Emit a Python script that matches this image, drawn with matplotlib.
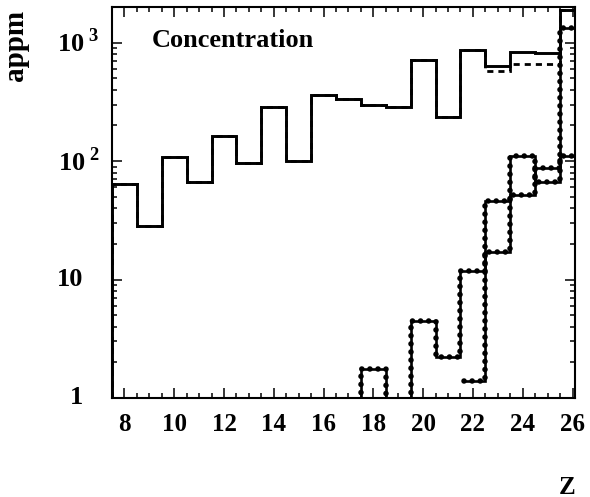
import numpy as np
import matplotlib.pyplot as plt
from matplotlib.transforms import blended_transform_factory

plt.rcParams['font.family'] = ['Liberation Serif', 'DejaVu Serif']
plt.rcParams['font.weight'] = 'bold'
plt.rcParams['mathtext.fontset'] = 'custom'
plt.rcParams['mathtext.rm'] = 'Liberation Serif:bold'
plt.rcParams['mathtext.bf'] = 'Liberation Serif:bold'

# bin edges (Z) and concentrations in appm
edges_main = np.arange(7.5, 27.0, 1.0)
conc_solid = [64, 28.4, 109, 66, 164, 96, 287, 101, 364, 337, 296, 287,
              720, 236, 875, 631, 830, 820, 1900]
conc_dashed = [64, 28.4, 109, 66, 164, 96, 287, 101, 364, 337, 296, 287,
               720, 236, 875, 573, 661, 661, 1900]

edges_a = np.arange(17.5, 27.0, 1.0)
conc_a = [1.76, 0, 4.5, 2.2, 11.7, 46, 111, 66, 1340]

edges_b = [21.65, 22.5, 23.5, 24.5, 25.5, 26.5]
conc_b = [1.40, 17.2, 52, 87.5, 110]

xticks = [8, 10, 12, 14, 16, 18, 20, 22, 24, 26]
ytick_vals = [1, 10, 100, 1000]
ytick_labs = ['1', '10', r'$10^{\;2}$', r'$10^{\;3}$']

fig = plt.figure(figsize=(5.9, 4.97), dpi=100)
ax = fig.add_axes([112/590, 1-398/497, 463/590, 391/497])
ax.set_yscale('log', nonpositive='clip')

ax.stairs(conc_dashed, edges_main, color='black', lw=2.0,
          linestyle=(0, (2.2, 1.8)))
ax.stairs(conc_solid, edges_main, color='black', lw=2.1)

def beaded(values, edges, baseline):
    # thin line plus round dots along the same path
    ax.stairs(values, edges, baseline=baseline, color='black', lw=1.9)
    ax.stairs(values, edges, baseline=baseline, color='black', lw=4.0,
              linestyle=(0, (0.01, 1.45)), capstyle='round')

beaded(conc_a, edges_a, 0)
beaded(conc_b, edges_b, None)

ax.set_xlim(7.5, 26.1)
ax.set_ylim(1, 2000)

ax.set_xticks(xticks)
ax.set_xticks(np.arange(7.5, 26.5, 0.5), minor=True)
ax.set_yticks(ytick_vals)
ax.tick_params(which='both', direction='in', top=True, right=True,
               labelleft=False, width=1.1, labelsize=18, pad=11)
ax.tick_params(which='major', length=7)
ax.tick_params(which='minor', length=3.6)
for s in ax.spines.values():
    s.set_linewidth(1.5)

trans = blended_transform_factory(ax.transAxes, ax.transData)
for v, lab in zip(ytick_vals, ytick_labs):
    xr = -29/463 if v < 100 else -12/463
    ax.text(xr, v, lab, transform=trans, ha='right', va='center',
            fontsize=19)

ax.text(40/463, 0.915, 'Concentration', transform=ax.transAxes,
        fontsize=19, ha='left', va='center')

fig.text(16/590, 1-45/497, 'appm', rotation=90, ha='center', va='center',
         fontsize=21)
fig.text(567/590, 1-487/497, 'Z', ha='center', va='center', fontsize=18)

fig.savefig('out.png', dpi=100)
